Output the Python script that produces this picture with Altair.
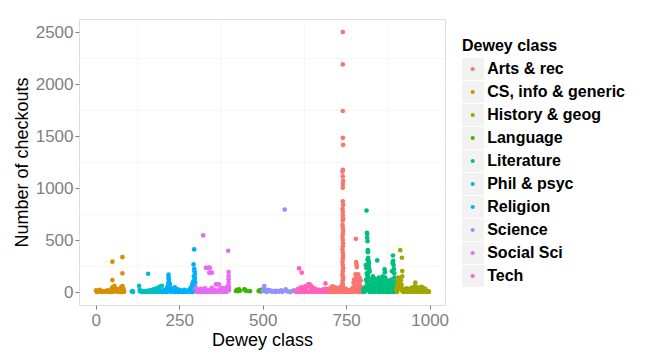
import altair as alt
import pandas as pd

categories = ["Arts & rec", "CS, info & generic", "History & geog", "Language",
              "Literature", "Phil & psyc", "Religion", "Science", "Social Sci", "Tech"]
palette = ["#F8766D", "#D89000", "#A3A500", "#39B600", "#00BF7D",
           "#00BFC4", "#00B0F6", "#9590FF", "#E76BF3", "#FF62BC"]

# ---- CS, info & generic (000-099)
cs_x = [1, 4, 8, 12, 16, 22, 27, 32, 36, 40, 45, 48, 50, 50, 50, 53, 56, 58, 61, 64, 67, 70, 73, 76, 78, 80, 80, 80, 80, 81, 82, 83, 84,
        3, 10, 19, 29, 38, 43, 47, 54, 66, 71, 77, 85]
cs_y = [15, 5, 10, 20, 5, 10, 5, 8, 15, 10, 5, 30, 115, 292, 45, 20, 60, 35, 10, 25, 15, 30, 20, 45, 10, 336, 180, 58, 25, 40, 15, 30, 8,
        2, 4, 1, 3, 2, 5, 1, 3, 2, 4, 1, 3]
# ---- Phil & psyc (100-199)
phil_x = [108, 110, 130, 132, 133, 135, 140, 145, 150, 154, 157, 157, 160, 163, 166, 169, 172, 175, 178, 181, 184, 187, 190, 193, 196, 198,
          176, 182, 188, 194, 112, 137, 142, 147, 152, 158, 162, 168, 174, 180, 186, 192, 199]
phil_y = [5, 8, 60, 22, 5, 10, 5, 8, 5, 10, 176, 12, 5, 15, 10, 20, 15, 25, 30, 20, 35, 40, 45, 50, 55, 60,
          5, 10, 5, 10, 2, 4, 1, 3, 2, 5, 1, 3, 2, 4, 1, 3, 2]
# ---- Religion (200-299)
rel_x = [200, 203, 206, 209, 212, 215, 217, 218, 218, 219, 219, 220, 220, 221, 222, 223, 225, 228, 231, 234,
         237, 240, 243, 246, 249, 252, 255, 258, 262, 266, 270, 274, 278, 282, 285, 288, 290, 292, 293, 294,
         295, 295, 296, 296, 297, 297, 298, 298, 299,
         201, 205, 211, 216, 226, 232, 238, 244, 250, 256, 261, 267, 272, 277, 283, 287, 291]
rel_y = [10, 5, 20, 15, 30, 50, 80, 167, 140, 120, 100, 90, 60, 40, 75, 30, 20, 10, 35, 15,
         45, 20, 10, 25, 5, 10, 15, 5, 8, 20, 5, 10, 15, 25, 40, 60, 80, 100, 266, 150,
         410, 224, 200, 120, 175, 140, 90, 50, 30,
         2, 4, 1, 3, 2, 5, 1, 3, 2, 4, 1, 3, 2, 5, 1, 3, 2]
# ---- Social Sci (300-399)
soc_x = [300, 303, 306, 309, 312, 315, 318, 321, 322, 324, 327, 330, 330, 333, 336, 338, 340, 342, 345, 348,
         340, 345, 348, 351, 354, 357, 360, 363, 366, 369, 372, 375, 378, 381, 384, 387, 390, 393, 396, 397,
         398, 398, 398, 398, 398, 399, 399,
         302, 307, 311, 317, 323, 328, 334, 339, 344, 350, 356, 362, 368, 374, 380, 386, 392]
soc_y = [40, 10, 25, 5, 15, 30, 8, 20, 545, 10, 35, 234, 5, 234, 20, 234, 234, 234, 10, 40,
         186, 186, 186, 15, 5, 20, 74, 74, 10, 74, 30, 15, 40, 5, 25, 10, 35, 50, 15, 397,
         192, 154, 122, 90, 60, 40, 20,
         2, 4, 1, 3, 2, 5, 1, 3, 2, 4, 1, 3, 2, 5, 1, 3, 2]
# ---- Language (400-499)
lang_x = [420, 423, 426, 429, 432, 445, 448, 451, 462, 488, 491, 494, 496, 498]
lang_y = [10, 20, 8, 25, 12, 25, 20, 10, 8, 10, 15, 5, 20, 10]
# ---- Science (500-599)
sci_x = [500, 503, 505, 507, 510, 514, 518, 522, 526, 530, 535, 540, 545, 550, 555, 560, 566, 569, 572, 585,
         590, 594, 597, 512, 528, 538, 548, 558, 575, 582]
sci_y = [10, 25, 58, 15, 5, 20, 10, 15, 5, 10, 8, 12, 5, 10, 15, 8, 794, 25, 10, 5,
         10, 15, 8, 2, 4, 1, 3, 2, 5, 1]
# ---- Tech (600-699)
tech_x = [600, 603, 606, 609, 612, 617, 615, 618, 621, 624, 627, 630, 633, 636, 638, 640, 642, 644, 646, 648,
          651, 654, 657, 660, 663, 666, 669, 672, 675, 678, 681, 684, 688, 690, 693, 696,
          601, 607, 613, 619, 626, 632, 639, 645, 652, 658, 664, 670, 677, 683, 689, 694, 698]
tech_y = [10, 5, 30, 227, 20, 186, 45, 10, 40, 25, 55, 35, 60, 74, 70, 74, 50, 65, 30, 45,
          20, 35, 10, 25, 15, 5, 20, 10, 15, 8, 25, 10, 83, 30, 15, 5,
          2, 4, 1, 3, 2, 5, 1, 3, 2, 4, 1, 3, 2, 5, 1, 3, 2]
# ---- Arts & rec (700-799)
arts_col_x = [740, 740, 740, 740, 741, 740, 739, 740, 741, 740, 740, 740, 741, 739, 740, 740, 741, 740, 739, 740,
              741, 740, 739, 740, 741, 740, 739, 740, 741, 740, 739, 740, 741, 740, 739, 740, 741, 740, 739, 740,
              741, 740, 739, 740]
arts_col_y = [2505, 2192, 1744, 1485, 1418, 1178, 1160, 1114, 1072, 1040, 1005, 874, 839, 800, 772, 736, 710, 691, 650, 620,
              590, 560, 530, 500, 470, 440, 410, 380, 350, 320, 290, 260, 230, 200, 170, 150, 130, 110, 90, 70,
              50, 35, 20, 10]
arts_x = [700, 703, 706, 709, 712, 715, 718, 721, 724, 727, 730, 733, 736, 738, 744, 746, 749, 752, 755, 758,
          761, 764, 767, 770, 772, 774, 776, 778, 779, 780, 780, 781, 782, 783, 784, 786, 788, 790, 792, 794,
          796, 798, 771, 775, 777, 785, 787, 789, 791, 793, 795, 797,
          701, 707, 713, 719, 725, 731, 737, 742, 748, 754, 760, 766, 771, 777, 785, 791, 797]
arts_y = [20, 40, 10, 55, 25, 15, 45, 30, 10, 35, 20, 50, 15, 60, 25, 10, 30, 5, 20, 10,
          15, 5, 25, 40, 90, 120, 60, 170, 512, 288, 150, 265, 240, 130, 100, 170, 80, 140, 60, 110,
          40, 20, 10, 30, 20, 50, 20, 35, 15, 25, 10, 5,
          2, 4, 1, 3, 2, 5, 1, 3, 2, 4, 1, 3, 2, 5, 1, 3, 2]
# ---- Literature (800-899)
lit_x = [808, 810, 811, 812, 813, 813, 814, 815, 815, 816, 817, 818, 818, 819, 820, 812, 814, 816, 811, 813,
         815, 817, 819, 810, 812, 814, 816, 818, 809, 811, 813, 815, 817, 819, 821, 823, 806, 804, 802,
         825, 828, 830, 833, 836, 838, 841, 843, 845, 848, 850, 853, 855, 858, 860, 863, 865, 866, 868, 870,
         873, 875, 878, 880, 883, 885, 887, 889, 890, 891, 892, 893, 894, 895, 896, 897, 898,
         826, 832, 840, 846, 852, 857, 862, 869, 876, 882, 888, 891, 894, 897,
         829, 835, 842, 849, 856, 861, 867, 872, 879, 884,
         801, 807, 821, 827, 834, 839, 847, 854, 859, 864, 871, 877, 881, 886, 892, 895, 899]
lit_y = [50, 120, 785, 570, 560, 522, 490, 403, 384, 330, 300, 280, 250, 220, 200, 180, 160, 140, 110, 90,
         70, 50, 30, 15, 240, 310, 270, 190, 260, 230, 170, 130, 100, 80, 60, 40, 20, 10, 30,
         120, 60, 150, 90, 130, 40, 110, 304, 70, 140, 100, 50, 120, 80, 150, 100, 218, 190, 90, 60,
         110, 40, 80, 30, 60, 120, 200, 280, 352, 300, 260, 220, 180, 140, 100, 70, 30,
         20, 25, 15, 30, 10, 20, 35, 15, 20, 10, 40, 60, 20, 10,
         80, 60, 50, 90, 70, 130, 140, 80, 50, 90,
         2, 4, 1, 3, 2, 5, 1, 3, 2, 4, 1, 3, 2, 5, 1, 3, 2]
# ---- History & geog (900-999)
hist_x = [900, 902, 904, 906, 907, 908, 909, 910, 911, 912, 913, 914, 915, 916, 917, 918, 918, 918, 920, 922,
          925, 928, 931, 934, 937, 940, 943, 946, 949, 952, 955, 957, 960, 963, 966, 969, 972, 975, 977, 979,
          981, 984, 987, 990, 993, 996,
          903, 919, 923, 929, 935, 941, 947, 953, 959, 965, 971, 976, 982, 988, 992, 995, 998]
hist_y = [20, 60, 100, 140, 90, 120, 50, 80, 30, 403, 60, 110, 40, 70, 330, 202, 150, 20, 30, 10,
          25, 15, 35, 20, 10, 30, 15, 40, 20, 30, 55, 90, 25, 45, 15, 35, 20, 50, 30, 45,
          25, 15, 30, 10, 5, 8,
          2, 4, 1, 3, 2, 5, 1, 3, 2, 4, 1, 3, 2, 5, 1, 3, 2]

x_ticks = [0, 250, 500, 750, 1000]
y_ticks = [0, 500, 1000, 1500, 2000, 2500]
x_minor = [125, 375, 625, 875]
y_minor = [250, 750, 1250, 1750, 2250]

groups = [
    ("CS, info & generic", cs_x, cs_y),
    ("Phil & psyc", phil_x, phil_y),
    ("Religion", rel_x, rel_y),
    ("Social Sci", soc_x, soc_y),
    ("Language", lang_x, lang_y),
    ("Science", sci_x, sci_y),
    ("Tech", tech_x, tech_y),
    ("Arts & rec", arts_x, arts_y),
    ("Arts & rec", arts_col_x, arts_col_y),
    ("Literature", lit_x, lit_y),
    ("History & geog", hist_x, hist_y),
]
rows = []
for name, xs, ys in groups:
    for a, b in zip(xs, ys):
        rows.append({"dewey": a, "checkouts": b, "cls": name})
df = pd.DataFrame(rows)

FONT = "Liberation Sans"
xscale = alt.Scale(domain=[-50, 1046], nice=False, zero=False)
yscale = alt.Scale(domain=[-125, 2630], nice=False, zero=False)

xaxis = alt.Axis(values=x_ticks, format="d", title="Dewey class", grid=True, gridColor="white",
                 gridWidth=1.4, domain=False, tickColor="#7F7F7F", tickSize=4, labelColor="#7F7F7F",
                 labelFont=FONT, labelFontSize=17, labelPadding=3, titleFont=FONT, titleFontSize=18,
                 titleFontWeight="normal", titleColor="black", titlePadding=3)
yaxis = alt.Axis(values=y_ticks, format="d", title="Number of checkouts", grid=True, gridColor="white",
                 gridWidth=1.4, domain=False, tickColor="#7F7F7F", tickSize=4, labelColor="#7F7F7F",
                 labelFont=FONT, labelFontSize=17, labelPadding=2, titleFont=FONT, titleFontSize=18,
                 titleFontWeight="normal", titleColor="black", titlePadding=4)

vminor = alt.Chart(pd.DataFrame({"v": x_minor})).mark_rule(color="#F2F2F2", strokeWidth=0.8).encode(
    x=alt.X("v:Q", scale=xscale, axis=xaxis))
hminor = alt.Chart(pd.DataFrame({"v": y_minor})).mark_rule(color="#F2F2F2", strokeWidth=0.8).encode(
    y=alt.Y("v:Q", scale=yscale, axis=yaxis))

points = alt.Chart(df).mark_circle(size=22, opacity=1).encode(
    x=alt.X("dewey:Q", scale=xscale, axis=xaxis),
    y=alt.Y("checkouts:Q", scale=yscale, axis=yaxis),
    color=alt.Color("cls:N", scale=alt.Scale(range=palette),
                    legend=alt.Legend(orient="none", legendX=385.7, legendY=42, title=None,
                                      symbolType="circle", symbolSize=17, symbolStrokeWidth=0,
                                      symbolOpacity=1, labelFont=FONT, labelFontSize=16,
                                      labelFontWeight="bold", labelColor="black", labelOffset=6.5,
                                      rowPadding=7, padding=0, zindex=1)),
)

keys = alt.Chart(df).mark_point(filled=True, color="#F2F2F2", opacity=1).encode(
    x=alt.X("dewey:Q", scale=xscale, axis=xaxis),
    y=alt.Y("checkouts:Q", scale=yscale, axis=yaxis),
    shape=alt.Shape("cls2:N", scale=alt.Scale(domain=categories, range=["square"] * len(categories)),
                    legend=alt.Legend(orient="none", legendX=383, legendY=19, title="Dewey class",
                                      titleFont=FONT, titleFontSize=16, titleFontWeight="bold",
                                      titleColor="black", titlePadding=4, symbolType="square",
                                      symbolSize=484, symbolFillColor="#F2F2F2", symbolStrokeWidth=0,
                                      symbolOpacity=1, labelExpr="''", labelFontSize=16,
                                      labelOffset=0, rowPadding=1, padding=0, zindex=0)),
).transform_calculate(cls2="datum.cls").transform_filter("datum.dewey < -1000")

chart = alt.layer(vminor, hminor, keys, points).properties(
    width=366, height=286,
    autosize=alt.AutoSizeParams(type="none"),
    padding={"left": 71, "top": 11, "right": 200, "bottom": 45},
).configure_view(fill="#E5E5E5", stroke=None).configure(background="white")

chart.save("out.html", embed_options={"renderer": "svg", "actions": False})
